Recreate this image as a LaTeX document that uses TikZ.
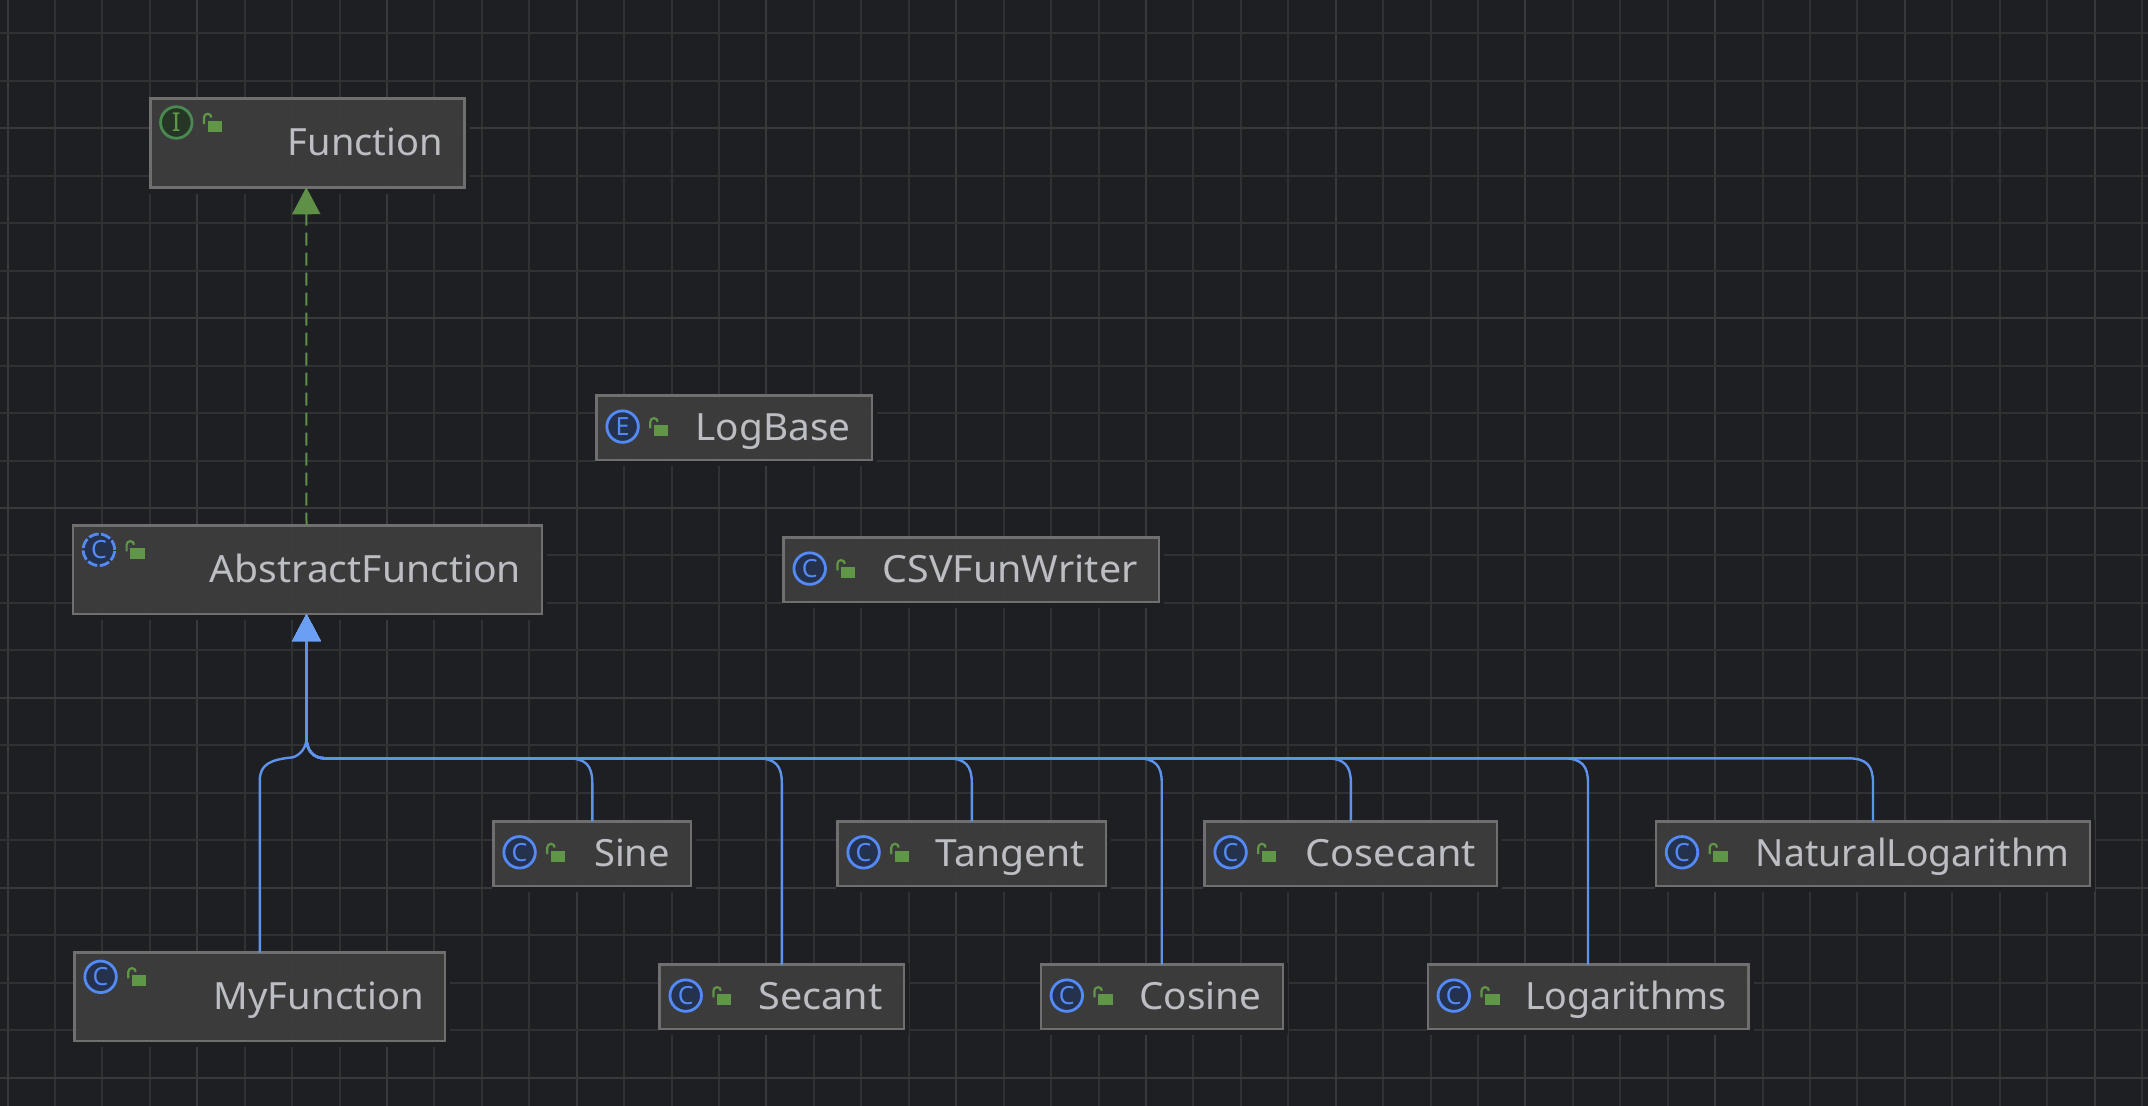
\documentclass[tikz,border=0pt]{standalone}
\usepackage{fontspec}
\usepackage{graphicx}
\setmainfont{Noto Sans}
\usetikzlibrary{arrows.meta}
\definecolor{canvasbg}{HTML}{1E1F22}
\definecolor{gridminor}{HTML}{303133}
\definecolor{gridmajor}{HTML}{39393B}
\definecolor{boxfill}{HTML}{3D3D3D}
\definecolor{boxline}{HTML}{6F6F6F}
\definecolor{labeltext}{HTML}{BCBEC4}
\definecolor{linkblue}{HTML}{5E93EC}
\definecolor{tipblue}{HTML}{6A9FF3}
\definecolor{linkgreen}{HTML}{5F9048}
\definecolor{lockgreen}{HTML}{5F9648}
\definecolor{iconblue}{HTML}{548AF7}
\definecolor{iconnavy}{HTML}{25324D}
\definecolor{icongreen}{HTML}{4A8A50}
\definecolor{icondark}{HTML}{253627}
\tikzset{
  classbox/.style={rectangle,draw=boxline,fill=boxfill,fill opacity=.96,line width=2.5pt,inner sep=0pt,outer sep=0pt},
  classlabel/.style={inner sep=0pt,outer sep=0pt,text=labeltext,font=\fontsize{37.5}{40}\selectfont},
  iconbase/.style={circle,minimum size=31.5pt,inner sep=0pt,outer sep=0pt,line width=2.8pt,font=\fontsize{25}{27}\selectfont},
  classicon/.style={iconbase,draw=iconblue,fill=iconnavy,text=iconblue},
  abstracticon/.style={iconbase,draw=iconblue,fill=iconnavy,text=iconblue,dash pattern=on 10pt off 2.5pt},
  ifaceicon/.style={iconbase,draw=icongreen,fill=icondark,text=lockgreen,font=\fontsize{26}{28}\bfseries\selectfont},
  lockbody/.style={fill=lockgreen},
  lockhook/.style={draw=lockgreen,line width=2.2pt},
  inherit/.style={draw=linkblue,line width=2.4pt,-{Triangle[length=27pt,width=28pt,fill=tipblue,color=tipblue]}},
  realize/.style={draw=linkgreen,line width=2pt,dash pattern=on 13pt off 7pt,-{Triangle[length=27pt,width=28pt,fill=linkgreen,color=linkgreen,sep=0pt]}}
}
\newcommand{\umlbox}[9]{%
  \pgfmathsetmacro{\bw}{#4-#2-2.5}%
  \pgfmathsetmacro{\bh}{#5-#3-2.5}%
  \pgfmathsetmacro{\cxx}{(#2+#4)/2}%
  \pgfmathsetmacro{\cyy}{(#3+#5)/2}%
  \pgfmathsetmacro{\baseoff}{\bh>80?58:46.5}%
  \pgfmathsetmacro{\iconoff}{\bh>80?25.5:32.3}%
  \pgfmathsetmacro{\lockoff}{\bh>80?0:7}%
  \fill[canvasbg] (#4,#3) rectangle (#4+4,#5+5);
  \fill[canvasbg] (#2,#5) rectangle (#4,#5+5);
  \node[classbox,minimum width=\bw pt,minimum height=\bh pt] (#1) at (\cxx,\cyy) {};
  \node[classlabel,anchor=base east] (#1-label) at (#4-22.5,#3+\baseoff) {\resizebox{#7pt}{\height}{#6}};
  \node[#8] (#1-icon) at (#2+27.3,#3+\iconoff) {#9};
  \fill[lockbody] (#2+58.6,#3+23.7+\lockoff) rectangle (#2+73,#3+34.7+\lockoff);
  \draw[lockhook] (#2+55,#3+27+\lockoff) -- (#2+55,#3+20.5+\lockoff) arc[start angle=180,end angle=0,radius=3.7pt];
}
\begin{document}
\begin{tikzpicture}[x=1pt,y=-1pt]
\useasboundingbox (0,0) rectangle (2148,1106);
\fill[canvasbg] (0,0) rectangle (2148,1106);
% grid
\foreach \i in {0,...,45}{
  \pgfmathsetmacro{\gx}{7.6+47.43*\i}
  \pgfmathtruncatemacro{\gm}{mod(\i,4)}
  \ifnum\gm=0\relax
    \draw[gridmajor,line width=2pt] (\gx,0) -- (\gx,1106);
  \else
    \draw[gridminor,line width=2pt] (\gx,0) -- (\gx,1106);
  \fi
}
\foreach \i in {0,...,22}{
  \pgfmathsetmacro{\gy}{33.4+47.46*\i}
  \pgfmathtruncatemacro{\gm}{mod(\i+2,4)}
  \ifnum\gm=0\relax
    \draw[gridmajor,line width=2pt] (0,\gy) -- (2148,\gy);
  \else
    \draw[gridminor,line width=2pt] (0,\gy) -- (2148,\gy);
  \fi
}
% classes
\umlbox{function}{149}{97}{465.5}{188.5}{Function}{155}{ifaceicon}{I}
\umlbox{abstract}{71.6}{524.3}{543.4}{615.3}{AbstractFunction}{311}{abstracticon}{C}
\umlbox{logbase}{595.3}{394.3}{873}{461}{LogBase}{155}{classicon}{E}
\umlbox{csv}{782.4}{536.3}{1160}{603}{CSVFunWriter}{255}{classicon}{C}
\umlbox{sine}{492.3}{820}{692.3}{887}{Sine}{75.7}{classicon}{C}
\umlbox{myfn}{73.3}{951.3}{446.3}{1042.3}{MyFunction}{210}{classicon}{C}
\umlbox{secant}{658.4}{963.3}{905.2}{1030.3}{Secant}{124}{classicon}{C}
\umlbox{tangent}{836.3}{820}{1107.3}{887}{Tangent}{149}{classicon}{C}
\umlbox{cosine}{1039.5}{963.3}{1284}{1030.3}{Cosine}{122}{classicon}{C}
\umlbox{cosecant}{1203.3}{820}{1498.4}{887}{Cosecant}{170}{classicon}{C}
\umlbox{logarithms}{1426.5}{963.3}{1749.5}{1030.3}{Logarithms}{202}{classicon}{C}
\umlbox{natural}{1654.7}{820}{2091.3}{887}{NaturalLogarithm}{313}{classicon}{C}
% connectors
\coordinate (top) at ([xshift=-1pt]abstract.south);
\coordinate (hy) at (0,758.3);
\coordinate (cy) at (0,783);
\coordinate (ky) at (0,766);
\draw[realize] ([xshift=-1pt]abstract.north) -- ([xshift=-1pt]function.south);
\draw[inherit] (myfn.north) -- ++(0,-172) .. controls ++(0,-16) and (270,759.5) .. (293,757.3) .. controls (300,755) and (306.5,748) .. (306.5,738) -- (top);
\foreach \n in {sine,secant,tangent,cosine,cosecant,logarithms,natural}{
  \draw[inherit] (\n.north) -- (\n.north |- cy) .. controls (\n.north |- ky) and ([xshift=-6pt]\n.north |- hy) .. ([xshift=-25pt]\n.north |- hy) -- (325,758.3) .. controls (313,758.3) and (306.5,750) .. (306.5,738) -- (top);
}
\end{tikzpicture}
\end{document}
